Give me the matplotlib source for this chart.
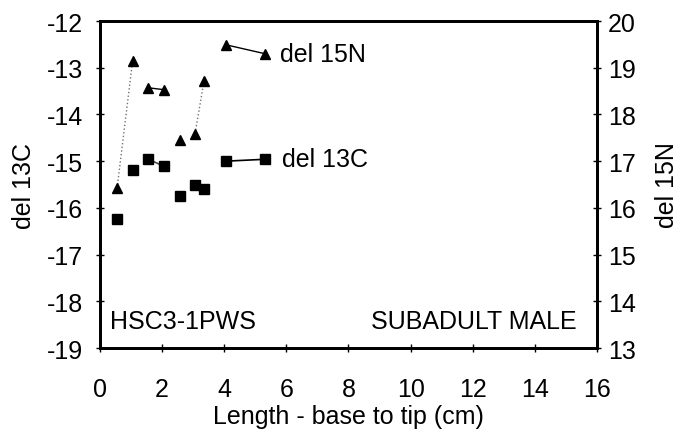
import matplotlib.pyplot as plt

plt.rcParams['font.family'] = ['Liberation Sans', 'DejaVu Sans']
plt.rcParams['axes.unicode_minus'] = False

# 시료 길이 (cm)
length = [0.55, 1.05, 1.56, 2.06, 2.58, 3.06, 3.35, 4.06, 5.31]
# del 15N
d15n = [16.42, 19.15, 18.57, 18.53, 17.46, 17.59, 18.72, 19.49, 19.30]
# del 13C
d13c = [-16.24, -15.20, -14.96, -15.11, -15.75, -15.50, -15.60, -15.00, -14.96]

# 스캔본에서 보이는 선분만 (인덱스 쌍, 선 스타일)
n_segs = [((0, 1), ':', '0.45'), ((2, 3), '-', 'black'), ((5, 6), ':', '0.45'), ((7, 8), '-', 'black')]
c_segs = [((2, 3), '-', '0.3'), ((5, 6), '-', 'black'), ((7, 8), '-', 'black')]

fs = 18

fig, ax = plt.subplots(figsize=(6.78, 4.35), dpi=100)
fig.subplots_adjust(left=0.1475, right=0.8805, top=0.9494, bottom=0.1977)
ax2 = ax.twinx()

for (i, j), ls, c in c_segs:
    ax.plot(length[i:j + 1], d13c[i:j + 1], ls=ls, color=c, lw=1.2)
ax.plot(length, d13c, 's', color='black', ms=7, ls='none')

for (i, j), ls, c in n_segs:
    ax2.plot(length[i:j + 1], d15n[i:j + 1], ls=ls, color=c, lw=1.0)
ax2.plot(length, d15n, '^', color='black', ms=7, ls='none')

ax.set_xlim(0, 16)
ax.set_ylim(-19, -12)
ax2.set_ylim(13, 20)
ax.set_xticks(range(0, 17, 2))
ax.set_yticks(range(-19, -11))
ax2.set_yticks(range(13, 21))

for a in (ax, ax2):
    for s in a.spines.values():
        s.set_linewidth(2)
    a.tick_params(direction='inout', length=6, width=1, labelsize=fs, pad=5)
ax.tick_params(axis='x', pad=18)
ax.tick_params(axis='y', pad=9)

ax.set_xlabel('Length - base to tip (cm)', fontsize=fs, labelpad=2)
ax.set_ylabel('del 13C', fontsize=fs, labelpad=8)
ax2.set_ylabel('del 15N', fontsize=fs, labelpad=14, rotation=90)

ax2.text(length[-1] + 0.48, d15n[-1], 'del 15N', fontsize=fs, va='center')
ax.text(length[-1] + 0.55, d13c[-1], 'del 13C', fontsize=fs, va='center')
ax.text(0.32, -18.42, 'HSC3-1PWS', fontsize=fs, va='center')
ax.text(15.36, -18.42, 'SUBADULT MALE', fontsize=fs, va='center', ha='right')

plt.savefig('out.png', dpi=100)
